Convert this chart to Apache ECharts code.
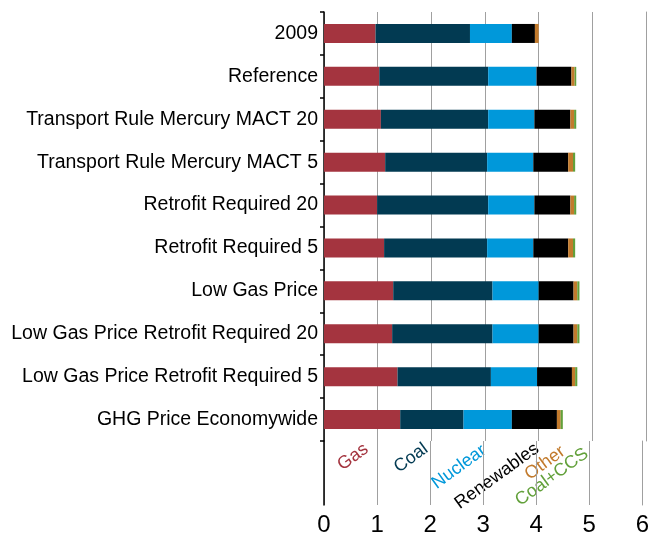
<!DOCTYPE html>
<html>
<head>
<meta charset="utf-8">
<script src="https://cdn.jsdelivr.net/npm/echarts@6/dist/echarts.min.js"></script>
<style>
html,body{margin:0;padding:0;background:#fff;}
#c{width:652px;height:537px;}
</style>
</head>
<body>
<div id="c"></div>
<script>
var categories = ['2009','Reference','Transport Rule Mercury MACT 20','Transport Rule Mercury MACT 5','Retrofit Required 20','Retrofit Required 5','Low Gas Price','Low Gas Price Retrofit Required 20','Low Gas Price Retrofit Required 5','GHG Price Economywide'];
var seriesNames = ['Gas','Coal','Nuclear','Renewables','Other','Coal+CCS'];
var gas = [0.96,1.03,1.06,1.14,0.99,1.12,1.29,1.27,1.37,1.42];
var coal = [1.76,2.03,2.00,1.90,2.07,1.92,1.85,1.87,1.74,1.18];
var nuclear = [0.78,0.90,0.86,0.86,0.86,0.86,0.86,0.86,0.86,0.90];
var renewables = [0.43,0.65,0.67,0.65,0.67,0.65,0.65,0.65,0.65,0.84];
var other = [0.07,0.06,0.07,0.09,0.07,0.09,0.07,0.07,0.06,0.07];
var coalCCS = [0,0.03,0.04,0.04,0.04,0.04,0.04,0.04,0.04,0.04];
var xTicks = [0,1,2,3,4,5,6];
var xMax = 6;

var colors = ['#a4343f','#023a52','#0098da','#000000','#c27a2c','#62a03a'];
var seriesData = [gas, coal, nuclear, renewables, other, coalCCS];
var FONT = '"Liberation Sans", Arial, sans-serif';
var GRID_GRAY = '#a0a0a0';

var chart = echarts.init(document.getElementById('c'), null, {renderer:'canvas'});

var series = seriesNames.map(function(name, i){
  return {
    name: name, type: 'bar', stack: 'total',
    xAxisIndex: 0, yAxisIndex: 0,
    barWidth: 19,
    itemStyle: {color: colors[i]},
    data: seriesData[i]
  };
});

var labelPos = [[353,457],[411,458],[459,467],[497,476],[545,463],[552,477]];
var graphics = seriesNames.map(function(name, i){
  return {
    type: 'text',
    x: labelPos[i][0], y: labelPos[i][1],
    rotation: 36 * Math.PI / 180,
    style: {
      text: name, fill: colors[i],
      font: '18px ' + FONT,
      align: 'center', verticalAlign: 'middle'
    }
  };
});

var gridLine = {show: true, lineStyle: {color: GRID_GRAY, width: 1}};

chart.setOption({
  animation: false,
  backgroundColor: '#fff',
  grid: [
    {left: 324, right: 6, top: 12, height: 429},
    {left: 324, right: 6, top: 441, height: 65}
  ],
  xAxis: [
    {type: 'value', gridIndex: 0, min: 0, max: xMax, interval: 1,
     axisLabel: {show: false}, axisLine: {show: false}, axisTick: {show: false},
     splitLine: gridLine},
    {type: 'value', gridIndex: 1, min: 0, max: xMax, interval: 1,
     axisLabel: {show: true, fontSize: 24, color: '#000', fontFamily: FONT, margin: 8,
       formatter: function(v){ return xTicks.indexOf(v) >= 0 ? String(v) : ''; }},
     axisLine: {show: false}, axisTick: {show: false},
     splitLine: gridLine}
  ],
  yAxis: [
    {type: 'category', gridIndex: 0, inverse: true, data: categories,
     axisLine: {show: true, lineStyle: {color: '#000', width: 1.5}},
     axisTick: {show: true, length: 4, lineStyle: {color: '#000', width: 1.5}},
     axisLabel: {fontSize: 19.5, color: '#000', fontFamily: FONT, margin: 6}},
    {type: 'value', gridIndex: 1, min: 0, max: 1,
     axisLine: {show: true, lineStyle: {color: '#000', width: 1.5}},
     axisTick: {show: false}, axisLabel: {show: false}, splitLine: {show: false}},
    {type: 'value', gridIndex: 0, position: 'right', min: 0, max: 1,
     axisLine: {show: true, onZero: false, lineStyle: {color: GRID_GRAY, width: 1}},
     axisTick: {show: false}, axisLabel: {show: false}, splitLine: {show: false}},
    {type: 'value', gridIndex: 1, position: 'right', min: 0, max: 1,
     axisLine: {show: true, onZero: false, lineStyle: {color: GRID_GRAY, width: 1}},
     axisTick: {show: false}, axisLabel: {show: false}, splitLine: {show: false}}
  ],
  series: series,
  graphic: graphics
});
</script>
</body>
</html>
